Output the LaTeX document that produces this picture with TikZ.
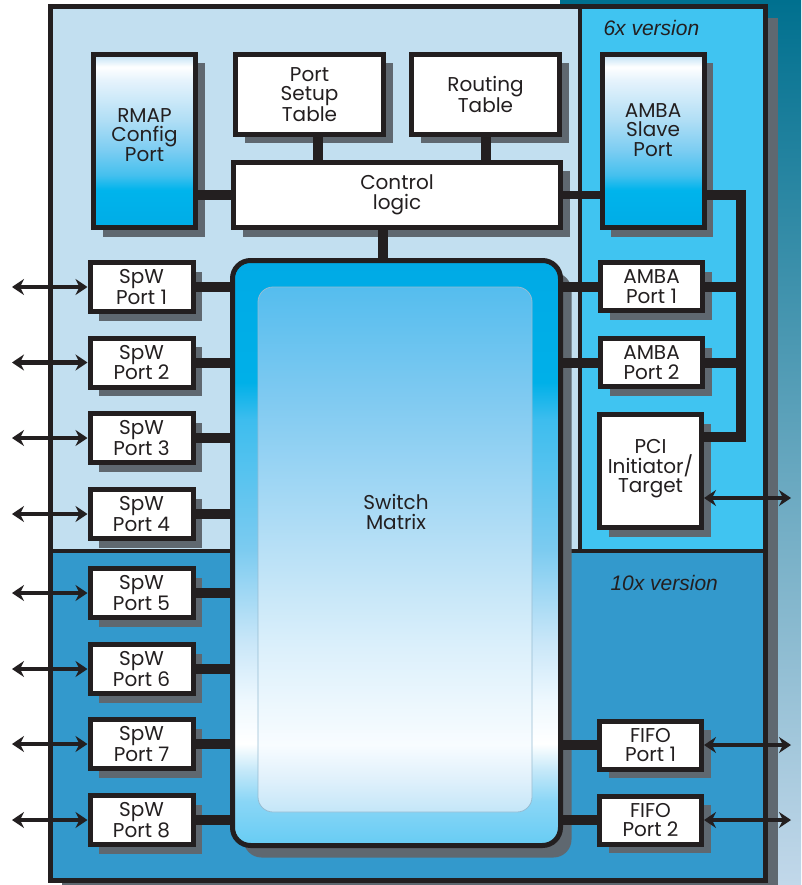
\documentclass[tikz,border=0pt]{standalone}
\usepackage{fontspec}
\setmainfont{Poppins}
\newfontfamily\versionfont{Liberation Sans}
\usetikzlibrary{arrows.meta,shadows}
\definecolor{ink}{RGB}{35,31,32}
\definecolor{shadowgrey}{RGB}{95,104,112}
\definecolor{corefill}{HTML}{C2DFF0}
\definecolor{sixfill}{HTML}{40C4F1}
\definecolor{tenfill}{HTML}{3399CC}
\definecolor{bgtop}{HTML}{00708F}
\definecolor{bgbot}{HTML}{C2D8EA}
\definecolor{mtxedge}{HTML}{96BCD2}
% tall config ports
\definecolor{cfgA}{HTML}{BCDFF4}
\definecolor{cfgB}{HTML}{E6F3FC}
\definecolor{cfgC}{HTML}{B0DEF5}
\definecolor{cfgD}{HTML}{7CCDF2}
\definecolor{cfgE}{HTML}{45C0EE}
\definecolor{cfgF}{HTML}{00B4EC}
\definecolor{cfgG}{HTML}{00ACE6}
\pgfdeclareverticalshading{cfgfill}{100bp}{color(0bp)=(cfgG); color(25bp)=(cfgG);
  color(35.9bp)=(cfgF); color(40.2bp)=(cfgE); color(47.4bp)=(cfgD); color(56bp)=(cfgC);
  color(67.6bp)=(cfgB); color(71.4bp)=(white); color(75bp)=(cfgA); color(100bp)=(cfgA)}
% switch matrix, outer ring
\definecolor{mtxA}{HTML}{00AAE6}
\definecolor{mtxB}{HTML}{00B0E8}
\definecolor{mtxC}{HTML}{3DBDEE}
\definecolor{mtxD}{HTML}{7CCBF0}
\definecolor{mtxE}{HTML}{C8E6F8}
\definecolor{mtxF}{HTML}{EEF8FE}
\definecolor{mtxG}{HTML}{C4E8F9}
\definecolor{mtxH}{HTML}{8AD6F6}
\definecolor{mtxI}{HTML}{66CCF4}
\pgfdeclareverticalshading{mtxfill}{100bp}{color(0bp)=(mtxI); color(25bp)=(mtxI);
  color(28.8bp)=(mtxH); color(31.4bp)=(mtxG); color(33.7bp)=(white); color(37.4bp)=(mtxF);
  color(42.5bp)=(mtxE); color(50.3bp)=(mtxD); color(61.4bp)=(mtxC); color(64.6bp)=(mtxB);
  color(75bp)=(mtxA); color(100bp)=(mtxA)}
% switch matrix, inner panel
\definecolor{panA}{HTML}{55BDEE}
\definecolor{panB}{HTML}{80CAF1}
\definecolor{panC}{HTML}{B8E0F6}
\definecolor{panD}{HTML}{DCF0FB}
\definecolor{panE}{HTML}{F8FCFF}
\definecolor{panF}{HTML}{DFF0FB}
\definecolor{panG}{HTML}{C4E6F8}
\pgfdeclareverticalshading{panelfill}{100bp}{color(0bp)=(panG); color(25bp)=(panG);
  color(28bp)=(panF); color(31.4bp)=(panE); color(40.5bp)=(panD); color(50bp)=(panC);
  color(64.2bp)=(panB); color(75bp)=(panA); color(100bp)=(panA)}

\begin{document}
\begin{tikzpicture}[x=1pt,y=-1pt,font=\fontsize{20}{19.5}\selectfont,
  blockbox/.style={draw=ink,line width=5pt,fill=white,text=ink,inner sep=0pt,align=center,
    drop shadow={shadow xshift=9pt,shadow yshift=-9pt,fill=shadowgrey,opacity=1}},
  spwport/.style={blockbox,minimum width=103pt,minimum height=49pt},
  sideport/.style={blockbox,minimum width=102pt,minimum height=48pt},
  tallport/.style={blockbox,shade,shading=cfgfill,minimum width=102pt,minimum height=173pt},
  tie/.style={draw=ink,line width=10pt},
  io/.style={draw=ink,line width=4.5pt,
    arrows={Stealth[length=12pt,width=16pt,inset=4pt]-Stealth[length=12pt,width=16pt,inset=4pt]}},
  version/.style={font=\versionfont\itshape\fontsize{21}{21}\selectfont,text=ink,anchor=base west}]
\useasboundingbox (0,0) rectangle (801,885);
\fill[white] (0,0) rectangle (801,885);
\shade[top color=bgtop,bottom color=bgbot] (560,0) rectangle (801,885);
% chip outline and the three areas
\fill[shadowgrey] (62,18.5) rectangle (777.5,892);
\fill[corefill] (50,6.5) rectangle (580,551);
\fill[sixfill] (580,6.5) rectangle (765.5,551);
\fill[tenfill] (50,551) rectangle (765.5,880);
\draw[ink,line width=4pt] (580,6.5) -- (580,551) (50,551) -- (765.5,551);
\draw[ink,line width=5pt] (50,6.5) rectangle (765.5,880);
\node[version] (six) at (600,36) {6x version};
\node[version] (ten) at (607,590) {10x version};
% configuration
\node[tallport] (rmap) at (144.5,141) {RMAP\\Config\\Port\\[-7.5pt]};
\node[blockbox,minimum width=148pt,minimum height=80pt] (setup) at (309.5,94.5) {Port\\Setup\\Table};
\node[blockbox,minimum width=148pt,minimum height=80pt] (route) at (485.5,94.5) {Routing\\Table};
\node[tallport] (slave) at (653,141) {AMBA\\Slave\\Port\\[2.5pt]};
\node[blockbox,minimum width=327pt,minimum height=65pt] (ctl) at (397,195) {Control\\logic};
% switch matrix
\node[draw=ink,line width=5pt,rounded corners=18pt,shade,shading=mtxfill,
  minimum width=328pt,minimum height=585pt,
  drop shadow={shadow xshift=11pt,shadow yshift=-12pt,fill=shadowgrey,opacity=1}] (mtx) at (396.5,553) {};
\draw[draw=mtxedge,line width=0.8pt,rounded corners=15pt,shade,shading=panelfill] (258,287) rectangle (532,812);
\node[text=ink,align=center] (mtxlabel) at (396,512) {Switch\\Matrix};
% SpaceWire ports
\node[spwport] (spw1) at (141.5,287) {SpW\\Port 1};
\node[spwport] (spw2) at (141.5,362.5) {SpW\\Port 2};
\node[spwport] (spw3) at (141.5,438) {SpW\\Port 3};
\node[spwport] (spw4) at (141.5,514) {SpW\\Port 4};
\node[spwport] (spw5) at (141.5,593) {SpW\\Port 5};
\node[spwport] (spw6) at (141.5,669) {SpW\\Port 6};
\node[spwport] (spw7) at (141.5,744) {SpW\\Port 7};
\node[spwport] (spw8) at (141.5,820) {SpW\\Port 8};
% right hand ports
\node[sideport] (amba1) at (651.5,286.5) {AMBA\\Port 1};
\node[sideport] (amba2) at (651.5,362.5) {AMBA\\Port 2};
\node[blockbox,minimum width=102pt,minimum height=113pt] (pci) at (650.5,471) {PCI\\Initiator/\\Target\\[-9.5pt]};
\node[sideport] (fifo1) at (650.5,745) {FIFO\\Port 1};
\node[sideport] (fifo2) at (650.5,820) {FIFO\\Port 2};
% links
\coordinate (setupdrop) at (318,0);
\coordinate (mtxdrop) at (383,0);
\coordinate (bus) at (741,0);
\coordinate (pcitap) at (0,437);
\draw[tie] (setupdrop |- setup.south) -- (setupdrop |- ctl.north);
\draw[tie] (route.south) -- (route.south |- ctl.north);
\draw[tie] (rmap.east |- ctl) -- (ctl.west);
\draw[tie,line width=8pt] (ctl.east) -- (ctl -| slave.west);
\draw[tie] (mtxdrop |- ctl.south) -- (mtxdrop |- mtx.north);
\draw[tie,line join=miter] (ctl -| slave.east) -| (bus |- pcitap) -- (pcitap -| pci.east);
\draw[tie] (amba1.east) -- (amba1 -| bus);
\draw[tie] (amba2.east) -- (amba2 -| bus);
\draw[tie] (spw1.east) -- (spw1 -| mtx.west);
\draw[tie] (spw2.east) -- (spw2 -| mtx.west);
\draw[tie] (spw3.east) -- (spw3 -| mtx.west);
\draw[tie] (spw4.east) -- (spw4 -| mtx.west);
\draw[tie] (spw5.east) -- (spw5 -| mtx.west);
\draw[tie] (spw6.east) -- (spw6 -| mtx.west);
\draw[tie] (spw7.east) -- (spw7 -| mtx.west);
\draw[tie] (spw8.east) -- (spw8 -| mtx.west);
\draw[tie] (amba1 -| mtx.east) -- (amba1.west);
\draw[tie] (amba2 -| mtx.east) -- (amba2.west);
\draw[tie] (fifo1 -| mtx.east) -- (fifo1.west);
\draw[tie] (fifo2 -| mtx.east) -- (fifo2.west);
% external signals
\coordinate (lrim) at (12,0);
\coordinate (rrim) at (791,0);
\coordinate (pciio) at (791,498);
\draw[io] (spw1 -| lrim) -- (spw1.west);
\draw[io] (spw2 -| lrim) -- (spw2.west);
\draw[io] (spw3 -| lrim) -- (spw3.west);
\draw[io] (spw4 -| lrim) -- (spw4.west);
\draw[io] (spw5 -| lrim) -- (spw5.west);
\draw[io] (spw6 -| lrim) -- (spw6.west);
\draw[io] (spw7 -| lrim) -- (spw7.west);
\draw[io] (spw8 -| lrim) -- (spw8.west);
\draw[io] (pciio -| pci.east) -- (pciio);
\draw[io] (fifo1.east) -- (fifo1 -| rrim);
\draw[io] (fifo2.east) -- (fifo2 -| rrim);
\end{tikzpicture}
\end{document}
